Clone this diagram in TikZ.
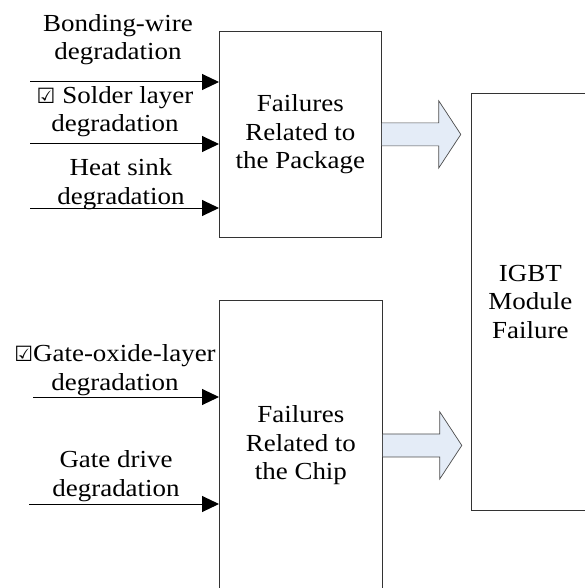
\documentclass[tikz,border=0pt]{standalone}
\usepackage{fontspec}
\setmainfont{Liberation Serif}[FakeStretch=1.1]
\newfontfamily\symfont{DejaVu Sans}
\usetikzlibrary{arrows.meta,calc}
\newcommand{\cbx}{{\symfont\fontsize{21}{24}\selectfont ☑}}
\definecolor{arrfill}{HTML}{E4ECF7}
\begin{document}
\begin{tikzpicture}[x=1pt,y=-1pt,
  txt/.style={font=\fontsize{24.5}{28.5}\selectfont, align=center, inner sep=0pt},
  box/.style={txt, draw=black!80, line width=0.8pt, rectangle, anchor=north west},
  lbl/.style={txt, anchor=base},
  inarrow/.style={draw=black, line width=1pt, -{Triangle[length=17pt,width=16pt]}},
  blockarrow/.style={fill=arrfill, draw=black!70, line width=0.7pt, line join=miter}]
\useasboundingbox (0,0) rectangle (584,588);
% boxes
\node[box, minimum width=162pt, minimum height=206pt] (pkg) at (219,31) {Failures\\Related to\\the Package};
\node[box, minimum width=163pt, minimum height=290pt] (chip) at (219,300) {Failures\\Related to\\the Chip};
\node[box, minimum width=118pt, minimum height=417pt] (igbt) at (471,93) {IGBT\\Module\\Failure};
% labels (anchored at baseline of last line)
\node[lbl] (l1) at (118,60) {Bonding-wire\\degradation};
\node[lbl] (l2) at (115,132) {\cbx\ Solder layer\\degradation};
\node[lbl] (l3) at (121,204) {Heat sink\\degradation};
\node[lbl] (l4) at (115,390) {\cbx Gate-oxide-layer\\degradation};
\node[lbl] (l5) at (116,496) {Gate drive\\degradation};
% input arrows
\coordinate (s1) at (30,82);
\coordinate (s2) at (30,144);
\coordinate (s3) at (30,208);
\coordinate (s4) at (33,397);
\coordinate (s5) at (29,504);
\draw[inarrow] (s1) -- (s1 -| pkg.west);
\draw[inarrow] (s2) -- (s2 -| pkg.west);
\draw[inarrow] (s3) -- (s3 -| pkg.west);
\draw[inarrow] (s4) -- (s4 -| chip.west);
\draw[inarrow] (s5) -- (s5 -| chip.west);
% block arrows
\filldraw[blockarrow] ($(pkg.east)+(0,-11.5)$) -- ++(57,0) -- ++(0,-22) -- ($(pkg.east)+(79,0)$)
  -- ($(pkg.east)+(57,33.5)$) -- ++(0,-22) -- ($(pkg.east)+(0,11.5)$);
\filldraw[blockarrow] ($(chip.east)+(0,-11.5)$) -- ++(57,0) -- ++(0,-22) -- ($(chip.east)+(79,0)$)
  -- ($(chip.east)+(57,33.5)$) -- ++(0,-22) -- ($(chip.east)+(0,11.5)$);
\end{tikzpicture}
\end{document}
